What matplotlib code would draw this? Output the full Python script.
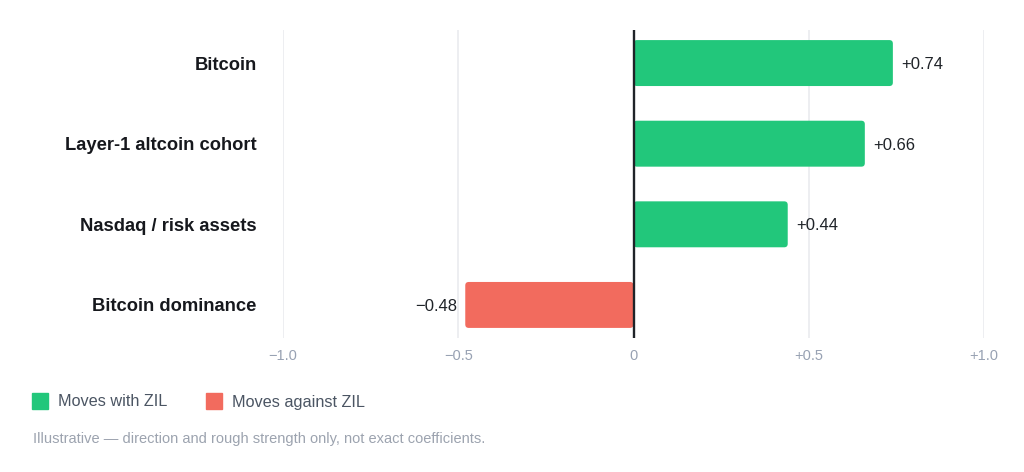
import matplotlib.pyplot as plt
from matplotlib.lines import Line2D
from matplotlib.patches import FancyBboxPatch

plt.rcParams['font.family'] = ['Liberation Sans', 'DejaVu Sans']

# data
categories = ['Bitcoin', 'Layer-1 altcoin cohort', 'Nasdaq / risk assets', 'Bitcoin dominance']
values = [0.74, 0.66, 0.44, -0.48]
value_labels = ['+0.74', '+0.66', '+0.44', '\u22120.48']
xticks = [-1.0, -0.5, 0, 0.5, 1.0]
xtick_labels = ['\u22121.0', '\u22120.5', '0', '+0.5', '+1.0']

GREEN = '#22c77b'
RED = '#f26b5e'

fig = plt.figure(figsize=(10.24, 4.72), dpi=100)
ax_w = (984 - 283) / 1024
ax_h = (338 - 30) / 472
ax = fig.add_axes([283/1024, 1 - 338/472, ax_w, ax_h])

ypos = list(range(len(categories)))
colors = [GREEN if v >= 0 else RED for v in values]
bars = ax.barh(ypos, values, height=0.57, color=colors, zorder=2)

ax.set_xlim(-1.0, 1.0)
ax.set_ylim(3.41, -0.41)

# round the bar corners (px per data unit in x and y)
px_x = ax_w * 1024 / 2.0
px_y = ax_h * 472 / 3.82
for b in bars:
    x0, y0, w, h = b.get_x(), b.get_y(), b.get_width(), b.get_height()
    if w < 0:
        x0, w = x0 + w, -w
    r = FancyBboxPatch((x0, y0), w, h,
                       boxstyle='round,pad=0,rounding_size=%f' % (3.5 / px_x),
                       mutation_aspect=px_x / px_y,
                       fc=b.get_facecolor(), ec='none', zorder=2)
    b.set_visible(False)
    ax.add_patch(r)

# grid lines
for t in xticks:
    if t == 0:
        ax.axvline(0, color='#1f2328', lw=1.7, zorder=3)
    else:
        ax.axvline(t, color='#e8eaee', lw=1.1, zorder=1)

for s in ax.spines.values():
    s.set_visible(False)

ax.set_yticks(ypos)
ax.set_yticklabels(categories, fontsize=13.2, fontweight='bold', color='#16181d')
ax.set_xticks(xticks)
ax.set_xticklabels(xtick_labels, fontsize=10.5, color='#98a2b3')
ax.tick_params(axis='y', length=0, pad=19)
ax.tick_params(axis='x', length=0, pad=8)

# value labels
for y, v, lab in zip(ypos, values, value_labels):
    if v >= 0:
        ax.annotate(lab, (v, y), xytext=(6, -1), textcoords='offset points',
                    ha='left', va='center', fontsize=12, color='#1f2328')
    else:
        ax.annotate(lab, (v, y), xytext=(-6, -1), textcoords='offset points',
                    ha='right', va='center', fontsize=12, color='#1f2328')

# legend
handles = [
    Line2D([], [], marker='s', ls='', markersize=12, color=GREEN, label='Moves with ZIL'),
    Line2D([], [], marker='s', ls='', markersize=12, color=RED, label='Moves against ZIL'),
]
fig.legend(handles=handles, loc='center left', bbox_to_anchor=(17/1024, 1 - 402/472),
           ncol=2, frameon=False, fontsize=11.7, labelcolor='#4b5563',
           handletextpad=0.6, columnspacing=2.4, handlelength=1.0)

fig.text(33/1024, 1 - 439/472, 'Illustrative \u2014 direction and rough strength only, not exact coefficients.',
         fontsize=10.5, color='#9ca3af', ha='left', va='center')

fig.savefig('out.png', dpi=100)
